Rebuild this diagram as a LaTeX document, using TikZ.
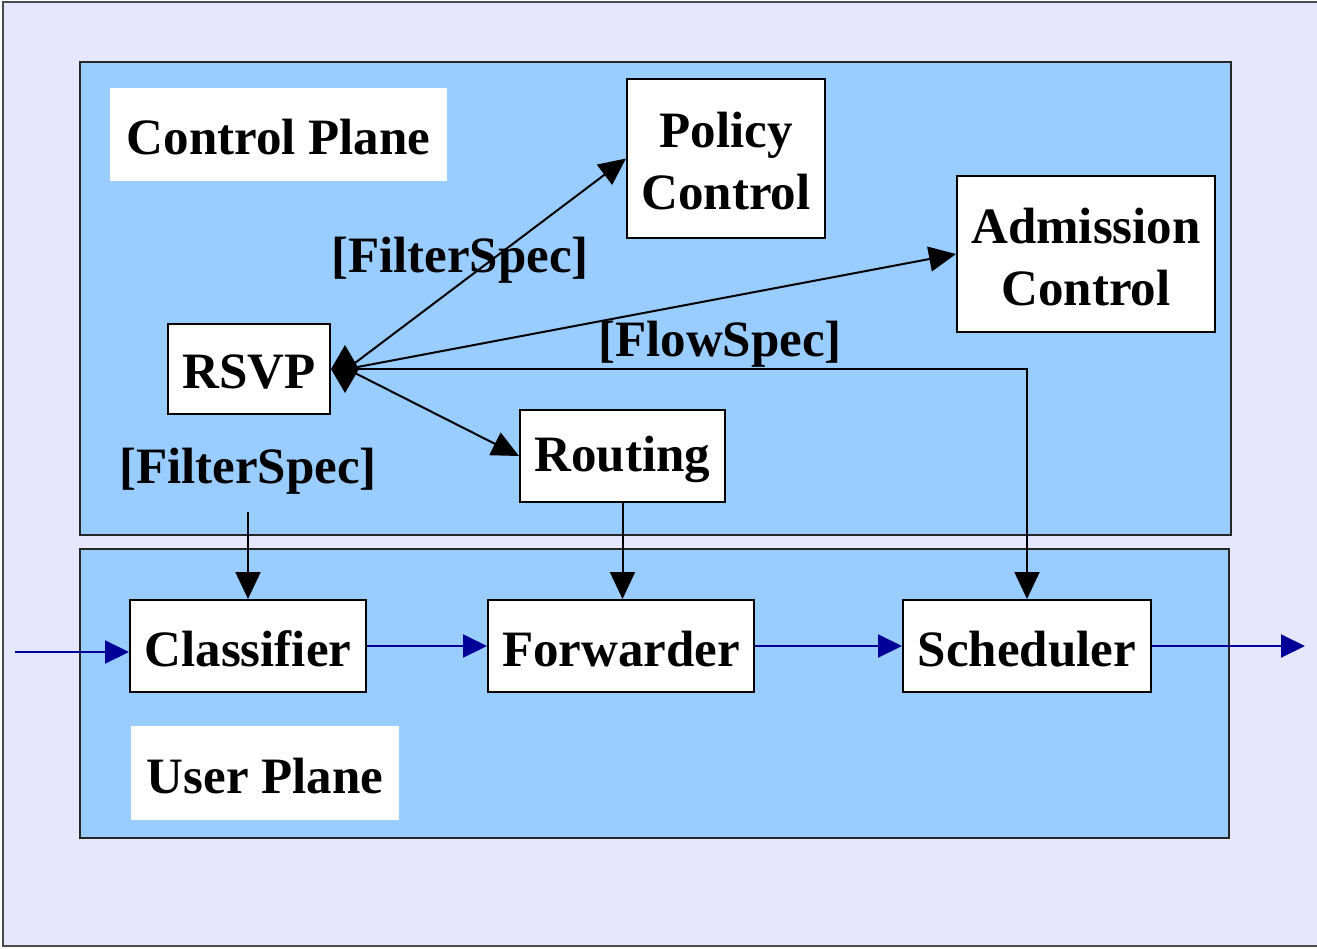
\documentclass[tikz,border=0pt]{standalone}
\usepackage{fontspec}
\setmainfont{Liberation Serif}
\usetikzlibrary{arrows.meta,fit}
\definecolor{lav}{HTML}{E6E6FF}
\definecolor{sky}{HTML}{99CCFF}
\definecolor{navyblue}{HTML}{000099}
\begin{document}
\begin{tikzpicture}[x=0.5pt,y=-0.5pt,
  font=\fontsize{25.5}{31}\selectfont\bfseries,
  plane/.style={draw=black!85, line width=1pt, fill=sky, inner sep=0pt},
  box/.style={draw=black, line width=1pt, fill=white, inner sep=0pt},
  tag/.style={fill=white, inner sep=0pt},
  lbl/.style={inner sep=0pt, align=center, yshift=-1.5pt},
  ctrl/.style={draw=black, line width=1pt, -{Triangle[length=13.5pt,width=12.5pt]}},
  data/.style={draw=navyblue, line width=1pt, -{Triangle[length=12pt,width=11.5pt]}}]
\useasboundingbox (0,0) rectangle (1317,948);
\draw[fill=lav, draw=black!70, line width=1pt] (3,2) rectangle (1320,946);
% planes
\node[plane, fit={(80,62) (1231,535)}] (cp) {};
\node[plane, fit={(80,549) (1229,838)}] (up) {};
\node[tag, fit={(110,88) (447,181)}] (cpt) {};
\node[lbl] at (cpt.center) {Control Plane};
\node[tag, fit={(131,726) (399,820)}] (upt) {};
\node[lbl] at (upt.center) {User Plane};
% control boxes
\node[box, fit={(627,79) (825,238)}] (pol) {};
\node[lbl] at (pol.center) {Policy\\Control};
\node[box, fit={(957,176) (1215,332)}] (adm) {};
\node[lbl] at (adm.center) {Admission\\Control};
\node[box, fit={(168,324) (330,414)}] (rsvp) {};
\node[lbl] at (rsvp.center) {RSVP};
\node[box, fit={(520,410) (725,502)}] (rout) {};
\node[lbl] at (rout.center) {Routing};
% user boxes
\node[box, fit={(130,600) (366,692)}] (cls) {};
\node[lbl] at (cls.center) {Classifier};
\node[box, fit={(488,600) (754,692)}] (fwd) {};
\node[lbl] at (fwd.center) {Forwarder};
\node[box, fit={(903,600) (1151,692)}] (sch) {};
\node[lbl] at (sch.center) {Scheduler};
% labels
\node[lbl] (fs1) at (460,257) {[FilterSpec]};
\node[lbl] (flow) at (720,341) {[FlowSpec]};
\node[lbl] (fs2) at (248,468) {[FilterSpec]};
% control connectors
\coordinate (hub) at ([xshift=8pt]rsvp.east);
\draw[line width=1pt, {Diamond[length=14pt,width=24pt]}-{Triangle[length=13.5pt,width=12.5pt]}] (rsvp.east) -| (sch.north);
\draw[ctrl] (hub) -- (pol.west);
\draw[ctrl] (hub) -- (adm.west);
\draw[ctrl] (hub) -- (rout.west);
\coordinate (fstop) at (248,512);
\draw[ctrl] (fstop) -- (cls.north);
\draw[ctrl] (rout.south) -- (rout.south |- fwd.north);
% data path
\coordinate (in) at (15,652);
\coordinate (out) at (1305,646);
\draw[data] (in) -- (in -| cls.west);
\draw[data] (cls.east) -- (fwd.west);
\draw[data] (fwd.east) -- (sch.west);
\draw[data] (sch.east) -- (out);
\end{tikzpicture}
\end{document}
